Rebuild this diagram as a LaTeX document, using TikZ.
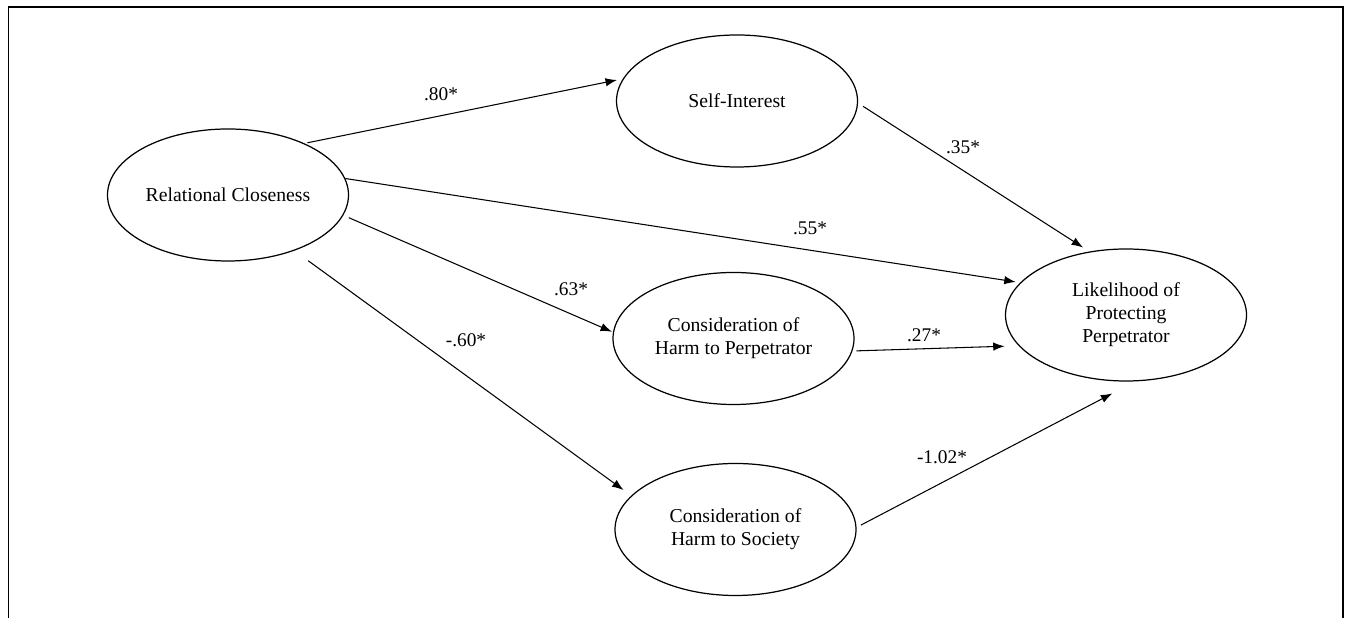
\documentclass[tikz,border=0pt]{standalone}
\usepackage{fontspec}
\setmainfont{Liberation Serif}
\usetikzlibrary{shapes.geometric,arrows.meta}

\begin{document}
\begin{tikzpicture}[
    construct/.style={draw, ellipse, line width=0.7pt, minimum width=4.82cm, minimum height=2.64cm, inner sep=0pt, align=center, font=\fontsize{11.2}{13.1}\selectfont},
    coef/.style={font=\fontsize{11}{13}\selectfont, inner sep=0pt},
    link/.style={->, line width=0.6pt, >={Latex[length=6.5pt,width=4.8pt]}}
]
    \useasboundingbox (0,0) rectangle (26.9,12.36);
    \draw [line width=0.8pt] (0.17,0) -- (0.17,12.22) -- (26.86,12.22) -- (26.86,0);

    \node[construct] (RC) at (4.56,8.46) {Relational Closeness};
    \node[construct] (SI) at (14.74,10.34) {Self-Interest};
    \node[construct] (HP) at (14.67,5.59) {Consideration of\\Harm to Perpetrator};
    \node[construct] (HS) at (14.71,1.77) {Consideration of\\Harm to Society};
    \node[construct] (LP) at (22.52,6.06) {Likelihood of\\Protecting\\Perpetrator};

    \draw [link, shorten <=0.06cm, shorten >=0.12cm] (RC.34.5)--(SI.169) ;
    \draw [link, shorten >=0.09cm] (RC.8)--(LP.163) ;
    \draw [link, shorten <=0.12cm, shorten >=0.02cm] (RC.-10)--(HP.177) ;
    \draw [link, shorten <=0.34cm, shorten >=0.19cm] (RC.-40)--(HS.162) ;
    \draw [link, shorten <=0.12cm, shorten >=0.15cm] (SI.-1)--(LP.120) ;
    \draw [link, shorten <=0.08cm, shorten >=0.28cm] (HP.-6)--(LP.196) ;
    \draw [link, shorten <=0.1cm, shorten >=0.52cm] (HS.1)--(LP.-82) ;

    \node[coef] (b1) at (8.82,10.48) {.80*};
    \node[coef] (b2) at (16.2,7.8) {.55*};
    \node[coef] (b3) at (11.42,6.58) {.63*};
    \node[coef] (b4) at (9.32,5.56) {-.60*};
    \node[coef] (b5) at (19.26,9.42) {.35*};
    \node[coef] (b6) at (18.48,5.66) {.27*};
    \node[coef] (b7) at (18.84,3.22) {-1.02*};

\end{tikzpicture}
\end{document}
